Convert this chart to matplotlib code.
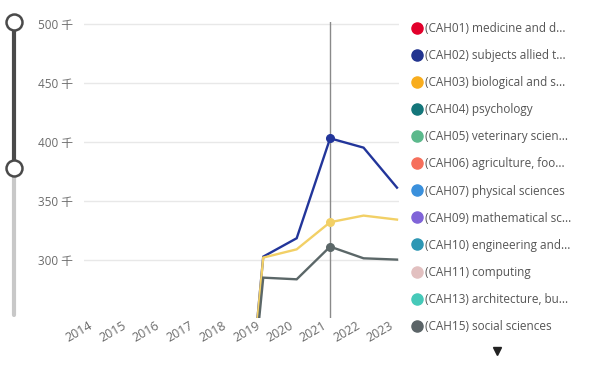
import matplotlib
matplotlib.use("Agg")
import matplotlib.pyplot as plt
import matplotlib.transforms as mtransforms
from matplotlib.lines import Line2D
from matplotlib.ticker import FuncFormatter

plt.rcParams['font.family'] = ['Open Sans', 'Noto Sans CJK SC', 'DejaVu Sans']

# ---------------------------------------------------------------------
# data
# ---------------------------------------------------------------------
years = [2014, 2015, 2016, 2017, 2018, 2019, 2020, 2021, 2022, 2023]

cah02 = [0, 0, 0, 0, 0, 302800, 318400, 403100, 395200, 361300]
cah03 = [0, 0, 0, 0, 0, 302000, 309000, 332000, 337600, 334200]
cah15 = [0, 0, 0, 0, 0, 285000, 283600, 311300, 301400, 300300]

line_colors = ["#22359a", "#f2d066", "#5b6768"]
hover_year = 2021

legend_labels = [
    "(CAH01) medicine and d...",
    "(CAH02) subjects allied t...",
    "(CAH03) biological and s...",
    "(CAH04) psychology",
    "(CAH05) veterinary scien...",
    "(CAH06) agriculture, foo...",
    "(CAH07) physical sciences",
    "(CAH09) mathematical sc...",
    "(CAH10) engineering and...",
    "(CAH11) computing",
    "(CAH13) architecture, bu...",
    "(CAH15) social sciences",
]
legend_colors = ["#e2002b", "#22348f", "#f8ad1e", "#14767a", "#5cb98c", "#f66f5c",
                 "#3a90dc", "#8064d8", "#2e97b4", "#e2c0c0", "#46c9b9", "#5b6467"]

y_ticks = [300000, 350000, 400000, 450000, 500000]

# ---------------------------------------------------------------------
# figure
# ---------------------------------------------------------------------
W, H = 592, 370
fig = plt.figure(figsize=(W / 100, H / 100), dpi=100)

# plot area in pixels: left 84, right 399, top 22, bottom 318
ax = fig.add_axes([84 / W, 1 - 318 / H, (399 - 84) / W, (318 - 22) / H])

series = [cah02, cah03, cah15]
hi = years.index(hover_year)
for vals, col in zip(series, line_colors):
    ax.plot(years, vals, color=col, lw=1.7, zorder=3, solid_joinstyle="miter")
    ax.plot(years[hi], vals[hi], "o", color=col, ms=5.5, zorder=4)

ax.axvline(hover_year, color="#8a8a8a", lw=1, zorder=2)

ax.set_xlim(2013.64, 2023.06)
ax.set_ylim(250800, 501700)
ax.set_yticks(y_ticks)
ax.yaxis.set_major_formatter(FuncFormatter(lambda v, p: f"{int(v / 1000)} 千"))
ax.set_xticks(years)
ax.set_xticklabels([str(y) for y in years], rotation=30, ha="right")
ax.tick_params(axis="both", length=0, colors="#6b6b6b", labelsize=8.5)
ax.tick_params(axis="y", pad=8)
ax.tick_params(axis="x", pad=1, labelsize=9)
shift = mtransforms.ScaledTranslation(-1 / 100, 0, fig.dpi_scale_trans)
for lbl in ax.get_xticklabels():
    lbl.set_transform(lbl.get_transform() + shift)
ax.grid(axis="y", color="#e8e8e8", lw=1)
ax.set_axisbelow(True)
for s in ax.spines.values():
    s.set_visible(False)

# legend
handles = [Line2D([], [], ls="none", marker="o", ms=8, color=c) for c in legend_colors]
fig.legend(handles, legend_labels, loc="upper left", bbox_to_anchor=(406 / W, 1 - 17.5 / H),
           frameon=False, fontsize=8.5, labelcolor="#555555", handletextpad=0.2,
           handlelength=1.0, labelspacing=1.19, borderaxespad=0)

# ui overlay: range slider and scroll arrow
ui = fig.add_axes([0, 0, 1, 1], zorder=5)
ui.set_xlim(0, W)
ui.set_ylim(H, 0)
ui.axis("off")
ui.plot([14, 14], [168, 315], color="#c8c8c8", lw=3, solid_capstyle="round")
ui.plot([14, 14], [22, 168], color="#4a4a4a", lw=3, solid_capstyle="round")
ui.plot([14, 14], [22, 168], "o", ms=11.5, mfc="white", mec="#4a4a4a", mew=1.8)
ui.plot(497, 351, marker="v", ms=6, color="#222222")

fig.savefig("out.png", dpi=100)
